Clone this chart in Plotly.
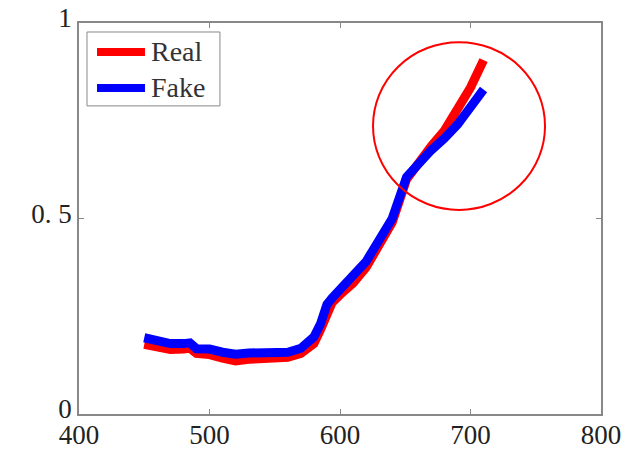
import plotly.graph_objects as go

wavelength = [450, 460, 470, 480, 485, 490, 500, 510, 520, 530, 540, 550, 560, 570, 580, 585, 590, 594,
              600, 610, 620, 630, 640, 651, 660, 670, 680, 690, 700, 710]
real = [0.178, 0.170, 0.165, 0.166, 0.168, 0.155, 0.152, 0.143, 0.136, 0.140, 0.143, 0.147, 0.145, 0.155,
        0.180, 0.215, 0.260, 0.285, 0.305, 0.335, 0.375, 0.430, 0.490, 0.600, 0.645, 0.685, 0.725, 0.775,
        0.835, 0.905]
fake = [0.195, 0.187, 0.180, 0.180, 0.182, 0.167, 0.166, 0.158, 0.153, 0.156, 0.158, 0.161, 0.158, 0.168,
        0.197, 0.230, 0.280, 0.297, 0.317, 0.350, 0.390, 0.445, 0.500, 0.606, 0.640, 0.675, 0.705, 0.740,
        0.785, 0.830]
x_ticks = [400, 500, 600, 700, 800]
y_ticks = [0, 0.5, 1]
y_ticktext = ["0", "0. 5", "1"]
series_names = ["Real", "Fake"]
series_colors = ["#ff0000", "#0000ff"]

FONT = "Liberation Serif"
fig = go.Figure()
for name, vals, col in zip(series_names, [real, fake], series_colors):
    fig.add_trace(go.Scatter(x=wavelength, y=vals, mode="lines", name=name,
                             line=dict(color=col, width=9), showlegend=False))

# highlight circle
fig.add_shape(type="circle", xref="x", yref="y", x0=625.3, x1=757.1, y0=0.522, y1=0.951,
              line=dict(color="#ff0000", width=2))

# manual legend (box, line samples, labels)
fig.add_shape(type="rect", xref="paper", yref="paper", x0=0.0153, x1=0.270, y0=0.788, y1=0.977,
              line=dict(color="#888888", width=1), fillcolor="white", layer="above")
for i, (name, col) in enumerate(zip(series_names, series_colors)):
    yy = 0.926 - i * 0.092
    fig.add_shape(type="line", xref="paper", yref="paper", x0=0.0345, x1=0.1264, y0=yy, y1=yy,
                  line=dict(color=col, width=8), layer="above")
    fig.add_annotation(xref="paper", yref="paper", x=0.134, y=yy, text=name, showarrow=False,
                       xanchor="left", yanchor="middle",
                       font=dict(family=FONT, size=28, color="#333333"))

axis_common = dict(showgrid=False, zeroline=False, showline=True, linecolor="#888888", linewidth=1.5,
                   mirror="ticks", ticks="inside", ticklen=5, tickcolor="#888888", automargin=False,
                   tickfont=dict(family=FONT, size=27, color="#222222"))
fig.update_xaxes(range=[400, 800], tickvals=x_ticks, ticklabelstandoff=-4, **axis_common)
fig.update_yaxes(range=[0, 1], tickvals=y_ticks, ticktext=y_ticktext, ticklabelshift=-5, **axis_common)

fig.update_layout(
    width=641, height=449, margin=dict(l=79, r=40, t=23, b=35),
    paper_bgcolor="white", plot_bgcolor="white",
    showlegend=False,
)
fig.write_html("out.html")
